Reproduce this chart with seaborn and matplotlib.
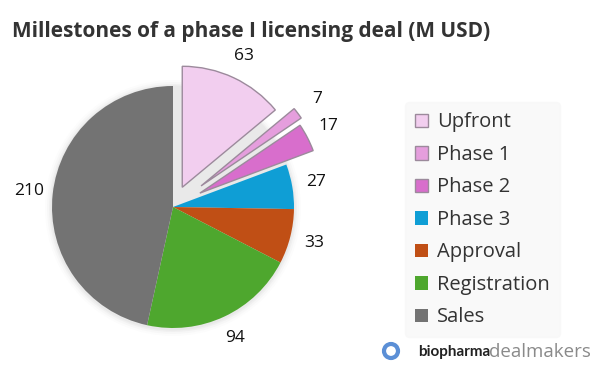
import matplotlib
matplotlib.use("Agg")
import matplotlib.pyplot as plt
from matplotlib.patches import Circle
import seaborn as sns

# Milestone data (M USD)
categories = ['Upfront', 'Phase 1', 'Phase 2', 'Phase 3', 'Approval', 'Registration', 'Sales']
values = [63, 7, 17, 27, 33, 94, 210]
colors = ['#F2CEEF', '#E59EDD', '#D86ECC', '#0F9ED5', '#C04F15', '#4EA72E', '#737373']
explode = [0.18, 0.29, 0.25, 0, 0, 0, 0]  # fraction of radius

sns.set_theme(style="white")
plt.rcParams['font.family'] = ['Open Sans', 'DejaVu Sans']

fig = plt.figure(figsize=(6, 3.75), dpi=100)
ax = fig.add_axes([0, 0, 1, 1])

R = 121
cx, cy = 173, 168

# soft shadow behind the pie
for k, a in [(7, 0.025), (5, 0.035), (3, 0.05), (1.5, 0.06)]:
    ax.add_patch(Circle((cx, cy - 1), R + k, color='#808080', alpha=a, lw=0))

wedges, texts = ax.pie(values, labels=[str(v) for v in values], colors=colors,
                       explode=[e * R for e in explode], startangle=90, counterclock=False,
                       radius=R, center=(cx, cy), labeldistance=1.2,
                       wedgeprops=dict(linewidth=0),
                       textprops=dict(fontsize=12.5, color='#111111'))
for t in texts:
    t.set_ha('center')
    t.set_va('center')
for w in wedges[:3]:
    w.set_edgecolor('#9c8a9c')
    w.set_linewidth(1.0)

ax.set_xlim(0, 600)
ax.set_ylim(0, 375)
ax.set_aspect('equal')
ax.axis('off')

fig.text(0.02, 0.9, 'Millestones of a phase I licensing deal (M USD)',
         fontsize=15, fontweight='bold', color='#333333')

leg = fig.legend(wedges, categories, loc='upper left', bbox_to_anchor=(0.675, 0.727),
                 frameon=True, fontsize=14.5, handlelength=0.65, handleheight=0.65,
                 handletextpad=0.45, labelspacing=0.62, borderpad=0.5,
                 borderaxespad=0, labelcolor='#333333')
leg.get_frame().set_facecolor('#f8f8f8')
leg.get_frame().set_edgecolor('#f8f8f8')

# logo
ax.add_patch(Circle((391, 24), 7, fill=False, edgecolor='#5b8fd6', linewidth=3))
fig.text(0.697, 0.061, 'biopharma', fontsize=11, fontweight='bold', color='#222222',
         va='center', family='Lato')
fig.text(0.815, 0.061, 'dealmakers', fontsize=13.5, color='#8a8a8a', va='center')

fig.savefig('out.png', dpi=100)
